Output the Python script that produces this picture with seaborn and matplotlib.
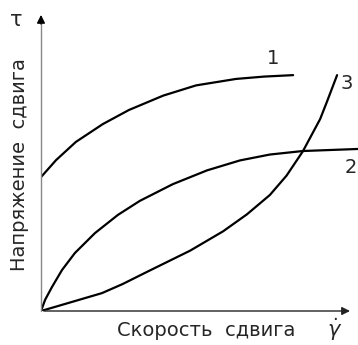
import matplotlib
matplotlib.use("Agg")
import matplotlib.pyplot as plt
import seaborn as sns
import pandas as pd

# кривые течения (условные единицы)
x1 = [0.0, 0.48, 1.11, 1.97, 2.80, 3.89, 4.94, 6.21, 7.1, 8.03]
y1 = [4.57, 5.15, 5.77, 6.38, 6.86, 7.35, 7.70, 7.92, 8.0, 8.05]

x2 = [0.0, 0.13, 0.35, 0.67, 1.08, 1.72, 2.45, 3.15, 4.20, 5.29, 6.34, 7.29, 8.34, 10.1]
y2 = [0.0, 0.38, 0.82, 1.40, 1.98, 2.66, 3.28, 3.76, 4.33, 4.80, 5.14, 5.34, 5.46, 5.53]

x3 = [0.0, 0.86, 1.94, 2.6, 3.31, 4.75, 5.80, 6.56, 7.29, 7.82, 8.34, 8.89, 9.11, 9.43]
y3 = [0.0, 0.27, 0.61, 0.92, 1.30, 2.06, 2.72, 3.30, 3.96, 4.62, 5.45, 6.55, 7.15, 8.05]

curve_names = ["1", "2", "3"]
label_pos = [(7.39, 8.63), (9.87, 4.91), (9.75, 7.75)]

df = pd.concat([
    pd.DataFrame({"x": x1, "y": y1, "curve": "1"}),
    pd.DataFrame({"x": x2, "y": y2, "curve": "2"}),
    pd.DataFrame({"x": x3, "y": y3, "curve": "3"}),
], ignore_index=True)

sns.set_style("white")
plt.rcParams['font.family'] = ['DejaVu Sans']

fig = plt.figure(figsize=(3.58, 3.45), dpi=100)
ax = fig.add_axes([41 / 358, 34 / 345, 317 / 358, 311 / 345])

sns.lineplot(data=df, x="x", y="y", hue="curve", palette=["black"] * 3,
             sort=False, estimator=None, lw=1.6, legend=False, ax=ax)

ax.set_xlim(0, 10.096)
ax.set_ylim(0, 10.614)
ax.axis("off")

# оси со стрелками
ax.plot([0, 0], [0, 10.0], color="#888888", lw=1.0, clip_on=False)
ax.annotate("", xy=(0, 10.2), xytext=(0, 9.7),
            arrowprops=dict(arrowstyle="-|>", color="black", lw=1.0, mutation_scale=12))
ax.annotate("", xy=(9.93, 0), xytext=(0, 0),
            arrowprops=dict(arrowstyle="-|>", color="#222222", lw=1.0, mutation_scale=12),
            annotation_clip=False)

for name, (tx, ty) in zip(curve_names, label_pos):
    ax.text(tx, ty, name, fontsize=14, ha="center", va="center")

ax.text(-0.8, 9.93, "τ", fontsize=15, ha="center", va="center", clip_on=False)
ax.text(-0.68, 5.0, "Напряжение  сдвига", fontsize=14, rotation=90,
        ha="center", va="center", clip_on=False)
ax.text(5.25, -0.65, "Скорость  сдвига", fontsize=14, ha="center", va="center",
        clip_on=False)
ax.text(9.36, -0.62, r"$\dot{\gamma}$", fontsize=15, ha="center", va="center",
        clip_on=False)

fig.savefig("out.png", dpi=100)
